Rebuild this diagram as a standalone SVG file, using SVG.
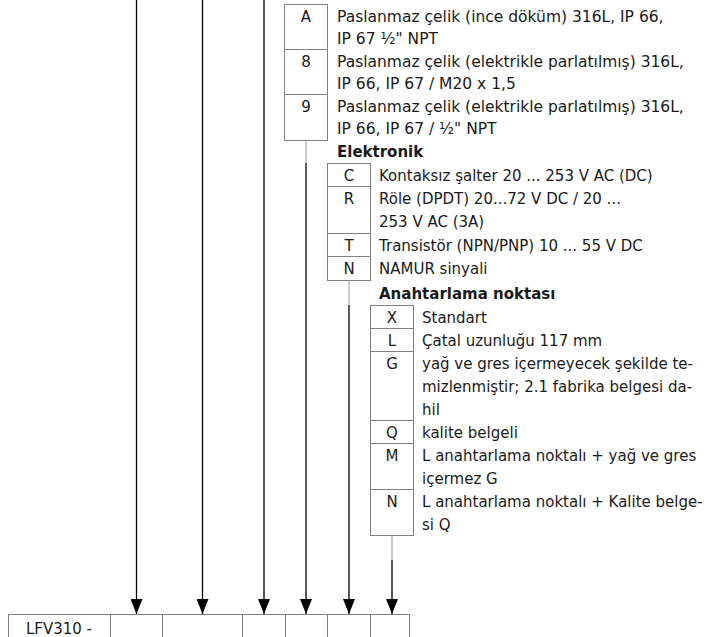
<svg xmlns="http://www.w3.org/2000/svg" width="709" height="637" viewBox="0 0 709 637">
<defs>
<marker id="arr" viewBox="0 0 15 12" refX="15" refY="6" markerWidth="15" markerHeight="12" markerUnits="userSpaceOnUse" orient="auto">
<path d="M0,0 L15,6 L0,12 z" fill="#000"/>
</marker>
</defs>
<style>
text{font-family:"DejaVu Sans","Liberation Sans",Arial,sans-serif;font-size:15px;fill:#1a1a1a}
.t{font-size:15.5px}
.b{font-weight:bold}
.c{text-anchor:middle}
.box{fill:none;stroke:#808080;stroke-width:1}
.g{stroke:#9a9a9a;stroke-width:1;fill:none}
.k{stroke:#000;stroke-width:1.3;fill:none}
.tab{stroke:#808080;stroke-width:1;fill:none}
</style>
<rect width="709" height="637" fill="#fff"/>

<g id="connectors">
<line class="k" x1="136.5" y1="0" x2="136.5" y2="614" marker-end="url(#arr)"/>
<line class="k" x1="202.5" y1="0" x2="202.5" y2="614" marker-end="url(#arr)"/>
<line class="k" x1="264" y1="0" x2="264" y2="614" marker-end="url(#arr)"/>
<line class="g" x1="306" y1="140.5" x2="306" y2="163"/>
<line class="k" x1="306" y1="163" x2="306" y2="614" marker-end="url(#arr)"/>
<line class="g" x1="349" y1="280.5" x2="349" y2="305"/>
<line class="k" x1="349" y1="305" x2="349" y2="614" marker-end="url(#arr)"/>
<line class="g" x1="392" y1="535.5" x2="392" y2="560"/>
<line class="k" x1="392" y1="560" x2="392" y2="614" marker-end="url(#arr)"/>
</g>

<g id="housing">
<rect class="box" x="284.5" y="4.5" width="43" height="136"/>
<line class="box" x1="284.5" y1="49.5" x2="327.5" y2="49.5"/>
<line class="box" x1="284.5" y1="94.5" x2="327.5" y2="94.5"/>
<text class="c" x="306" y="21.5">A</text>
<text class="t" x="337" y="21.5">Paslanmaz çelik (ince döküm) 316L, IP 66,</text>
<text class="t" x="337" y="44">IP 67 ½" NPT</text>
<text class="c" x="306" y="66.5">8</text>
<text class="t" x="337" y="66.5">Paslanmaz çelik (elektrikle parlatılmış) 316L,</text>
<text class="t" x="337" y="89">IP 66, IP 67 / M20 x 1,5</text>
<text class="c" x="306" y="111.5">9</text>
<text class="t" x="337" y="111.5">Paslanmaz çelik (elektrikle parlatılmış) 316L,</text>
<text class="t" x="337" y="134">IP 66, IP 67 / ½" NPT</text>
</g>

<g id="elektronik">
<text class="b" x="337" y="157">Elektronik</text>
<rect class="box" x="327.5" y="163.5" width="43" height="117"/>
<line class="box" x1="327.5" y1="186.5" x2="370.5" y2="186.5"/>
<line class="box" x1="327.5" y1="233.5" x2="370.5" y2="233.5"/>
<line class="box" x1="327.5" y1="256.5" x2="370.5" y2="256.5"/>
<text class="c" x="349" y="180.5">C</text>
<text x="379" y="180.5">Kontaksız şalter 20 ... 253 V AC (DC)</text>
<text class="c" x="349" y="203.5">R</text>
<text x="379" y="203.5">Röle (DPDT) 20...72 V DC / 20 ...</text>
<text x="379" y="226.5">253 V AC (3A)</text>
<text class="c" x="349" y="250.5">T</text>
<text x="379" y="250.5">Transistör (NPN/PNP) 10 ... 55 V DC</text>
<text class="c" x="349" y="273.5">N</text>
<text x="379" y="273.5">NAMUR sinyali</text>
</g>

<g id="anahtarlama">
<text class="b" x="379" y="299">Anahtarlama noktası</text>
<rect class="box" x="370.5" y="305.5" width="43" height="230"/>
<line class="box" x1="370.5" y1="328.5" x2="413.5" y2="328.5"/>
<line class="box" x1="370.5" y1="351.5" x2="413.5" y2="351.5"/>
<line class="box" x1="370.5" y1="420.5" x2="413.5" y2="420.5"/>
<line class="box" x1="370.5" y1="443.5" x2="413.5" y2="443.5"/>
<line class="box" x1="370.5" y1="489.5" x2="413.5" y2="489.5"/>
<text class="c" x="392" y="322.5">X</text>
<text x="422" y="322.5">Standart</text>
<text class="c" x="392" y="345.5">L</text>
<text x="422" y="345.5">Çatal uzunluğu 117 mm</text>
<text class="c" x="392" y="368.5">G</text>
<text x="422" y="368.5">yağ ve gres içermeyecek şekilde te-</text>
<text x="422" y="391.5">mizlenmiştir; 2.1 fabrika belgesi da-</text>
<text x="422" y="414.5">hil</text>
<text class="c" x="392" y="437.5">Q</text>
<text x="422" y="437.5">kalite belgeli</text>
<text class="c" x="392" y="460.5">M</text>
<text x="422" y="460.5">L anahtarlama noktalı + yağ ve gres</text>
<text x="422" y="483.5">içermez G</text>
<text class="c" x="392" y="506.5">N</text>
<text x="422" y="506.5">L anahtarlama noktalı + Kalite belge-</text>
<text x="422" y="529.5">si Q</text>
</g>

<g id="code-table">
<line class="tab" x1="8" y1="614.5" x2="410" y2="614.5"/>
<line class="tab" x1="8.5" y1="614.5" x2="8.5" y2="637"/>
<line class="tab" x1="110.5" y1="614.5" x2="110.5" y2="637"/>
<line class="tab" x1="162.5" y1="614.5" x2="162.5" y2="637"/>
<line class="tab" x1="242.5" y1="614.5" x2="242.5" y2="637"/>
<line class="tab" x1="285.5" y1="614.5" x2="285.5" y2="637"/>
<line class="tab" x1="327.5" y1="614.5" x2="327.5" y2="637"/>
<line class="tab" x1="370.5" y1="614.5" x2="370.5" y2="637"/>
<line class="tab" x1="409.5" y1="614.5" x2="409.5" y2="637"/>
<text class="c" x="59" y="634">LFV310 -</text>
</g>
</svg>
